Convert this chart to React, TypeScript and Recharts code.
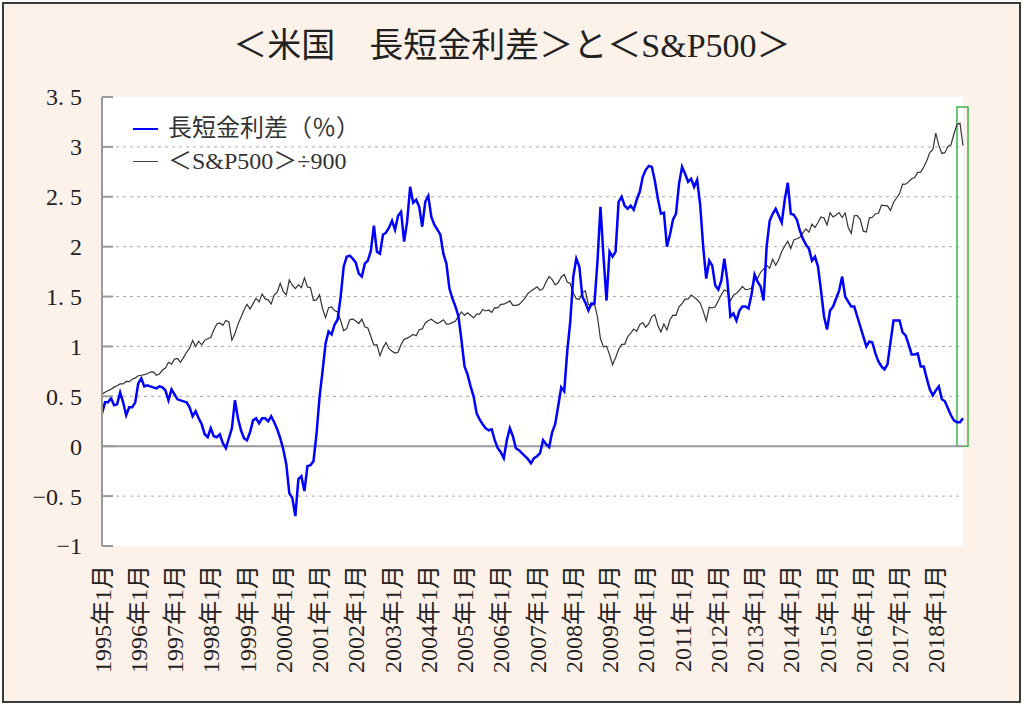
import React from "react";
import {
  LineChart,
  Line,
  XAxis,
  YAxis,
  CartesianGrid,
  ReferenceLine,
  ReferenceArea,
  Legend,
} from "recharts";

// monthly, 1995/01 .. 2018/10
const startYear = 1995;
const monthCount = 286;

// 長短金利差 (%), one row per year
const spread: number[] = [
  0.33, 0.44, 0.44, 0.48, 0.41, 0.42, 0.54, 0.44, 0.31, 0.39, 0.39, 0.44, // 1995
  0.63, 0.68, 0.6, 0.61, 0.6, 0.59, 0.58, 0.6, 0.59, 0.56, 0.46, 0.57, // 1996
  0.52, 0.47, 0.46, 0.45, 0.44, 0.39, 0.3, 0.35, 0.28, 0.22, 0.12, 0.09, // 1997
  0.18, 0.1, 0.09, 0.12, 0.03, -0.02, 0.08, 0.18, 0.46, 0.28, 0.16, 0.08, // 1998
  0.06, 0.14, 0.26, 0.28, 0.23, 0.28, 0.28, 0.25, 0.3, 0.24, 0.17, 0.08, // 1999
  -0.03, -0.18, -0.47, -0.52, -0.7, -0.33, -0.3, -0.45, -0.2, -0.19, -0.15, 0.12, // 2000
  0.49, 0.75, 1.03, 1.15, 1.12, 1.22, 1.27, 1.5, 1.8, 1.9, 1.91, 1.88, // 2001
  1.84, 1.73, 1.7, 1.83, 1.86, 1.96, 2.21, 1.95, 1.93, 2.12, 2.14, 2.19, // 2002
  2.26, 2.17, 2.31, 2.35, 2.05, 2.25, 2.6, 2.44, 2.47, 2.4, 2.2, 2.45, // 2003
  2.51, 2.3, 2.22, 2.17, 2.12, 1.93, 1.83, 1.58, 1.48, 1.4, 1.3, 1.06, // 2004
  0.8, 0.72, 0.6, 0.5, 0.33, 0.27, 0.22, 0.18, 0.16, 0.17, 0.06, -0.02, // 2005
  -0.06, -0.12, 0.06, 0.18, 0.1, -0.02, -0.04, -0.07, -0.1, -0.13, -0.17, -0.12, // 2006
  -0.1, -0.07, 0.06, 0.02, -0.01, 0.14, 0.22, 0.4, 0.59, 0.55, 0.95, 1.25, // 2007
  1.7, 1.88, 1.8, 1.5, 1.44, 1.36, 1.43, 1.43, 1.85, 2.4, 1.9, 1.46, // 2008
  1.95, 1.9, 1.95, 2.45, 2.5, 2.41, 2.38, 2.41, 2.37, 2.47, 2.55, 2.7, // 2009
  2.77, 2.81, 2.8, 2.66, 2.48, 2.33, 2.34, 2.0, 2.12, 2.27, 2.33, 2.63, // 2010
  2.8, 2.73, 2.65, 2.68, 2.6, 2.67, 2.42, 2.0, 1.68, 1.86, 1.81, 1.61, // 2011
  1.57, 1.66, 1.88, 1.66, 1.3, 1.33, 1.26, 1.36, 1.4, 1.4, 1.38, 1.52, // 2012
  1.72, 1.65, 1.6, 1.46, 2.0, 2.26, 2.33, 2.38, 2.31, 2.24, 2.47, 2.64, // 2013
  2.33, 2.32, 2.27, 2.16, 2.08, 2.02, 1.98, 1.86, 1.9, 1.8, 1.56, 1.3, // 2014
  1.17, 1.36, 1.4, 1.48, 1.56, 1.7, 1.5, 1.45, 1.4, 1.4, 1.3, 1.2, // 2015
  1.1, 1.0, 1.05, 1.04, 0.93, 0.85, 0.8, 0.77, 0.82, 1.04, 1.26, 1.26, // 2016
  1.26, 1.14, 1.11, 1.02, 0.92, 0.92, 0.93, 0.8, 0.8, 0.68, 0.57, 0.51, // 2017
  0.56, 0.6, 0.47, 0.45, 0.38, 0.31, 0.26, 0.24, 0.24, 0.28, // 2018
];

// S&P500 month-end level (plotted ÷900)
const sp500: number[] = [
  470, 487, 501, 515, 533, 545, 562, 562, 584, 582, 605, 616, // 1995
  636, 640, 646, 654, 669, 671, 640, 652, 687, 705, 757, 741, // 1996
  786, 791, 757, 801, 848, 885, 954, 900, 947, 915, 955, 970, // 1997
  980, 1049, 1102, 1112, 1091, 1134, 1121, 957, 1017, 1099, 1164, 1229, // 1998
  1280, 1238, 1286, 1335, 1302, 1373, 1329, 1320, 1283, 1363, 1389, 1469, // 1999
  1395, 1366, 1499, 1452, 1421, 1455, 1431, 1518, 1437, 1429, 1315, 1320, // 2000
  1366, 1240, 1160, 1250, 1256, 1224, 1211, 1134, 1041, 1060, 1140, 1148, // 2001
  1130, 1107, 1147, 1077, 1067, 990, 912, 916, 815, 886, 936, 880, // 2002
  856, 841, 848, 917, 964, 975, 990, 1008, 996, 1051, 1058, 1112, // 2003
  1131, 1145, 1126, 1107, 1121, 1141, 1102, 1104, 1115, 1130, 1174, 1212, // 2004
  1181, 1204, 1181, 1157, 1192, 1191, 1234, 1220, 1229, 1207, 1250, 1248, // 2005
  1280, 1281, 1295, 1311, 1270, 1270, 1277, 1304, 1336, 1378, 1401, 1418, // 2006
  1438, 1407, 1421, 1482, 1531, 1503, 1455, 1474, 1527, 1549, 1481, 1468, // 2007
  1379, 1331, 1323, 1386, 1400, 1280, 1267, 1283, 1166, 969, 896, 903, // 2008
  826, 735, 798, 873, 919, 919, 988, 1021, 1057, 1036, 1096, 1115, // 2009
  1074, 1105, 1169, 1187, 1089, 1031, 1102, 1049, 1141, 1183, 1181, 1258, // 2010
  1286, 1327, 1326, 1364, 1345, 1321, 1292, 1219, 1131, 1253, 1247, 1258, // 2011
  1312, 1366, 1409, 1398, 1310, 1362, 1379, 1407, 1441, 1412, 1416, 1426, // 2012
  1498, 1515, 1569, 1598, 1631, 1606, 1686, 1633, 1682, 1757, 1806, 1848, // 2013
  1783, 1860, 1872, 1884, 1924, 1960, 1931, 2003, 1972, 2018, 2068, 2059, // 2014
  1995, 2105, 2068, 2086, 2107, 2063, 2104, 1972, 1920, 2079, 2080, 2044, // 2015
  1940, 1932, 2060, 2065, 2097, 2099, 2174, 2171, 2168, 2126, 2199, 2239, // 2016
  2279, 2364, 2363, 2384, 2412, 2423, 2470, 2472, 2519, 2575, 2648, 2674, // 2017
  2824, 2714, 2641, 2648, 2705, 2718, 2816, 2902, 2914, 2712, // 2018
];

const yTicks = [-1, -0.5, 0, 0.5, 1, 1.5, 2, 2.5, 3, 3.5];
const gridValues = [-0.5, 0.5, 1, 1.5, 2, 2.5, 3];

const months: string[] = [];
for (let i = 0; i < monthCount; i++) {
  months.push(`${startYear + Math.floor(i / 12)}年${(i % 12) + 1}月`);
}

const rows = months.map((m, i) => ({
  month: m,
  spread: spread[i],
  sp: sp500[i] / 900,
}));

const serif = "'Liberation Serif', 'DejaVu Serif', 'Noto Sans CJK JP', serif";

const fmtY = (v: number) => (v < 0 ? "\u2212" + String(-v) : String(v)).replace(".", ". ");

const YTick = (props: any) => {
  const { x, y, payload } = props;
  return (
    <text x={x} y={y} dy="0.35em" textAnchor="end" fontSize={24} fill="#222" fontFamily={serif}>
      {fmtY(payload.value)}
    </text>
  );
};

const XTick = (props: any) => {
  const { x, y, payload } = props;
  return (
    <text
      x={0}
      y={0}
      transform={`translate(${x},${y}) rotate(-90)`}
      dy="0.36em"
      textAnchor="end"
      fontSize={24}
      fill="#222"
      fontFamily={serif}
    >
      {payload.value}
    </text>
  );
};

const LegendBox = () => (
  <div style={{ fontFamily: serif, fontSize: 24, color: "#333", lineHeight: "33px" }}>
    <div style={{ display: "flex", alignItems: "center" }}>
      <span style={{ display: "inline-block", width: 25, height: 2, background: "#0000ff", marginRight: 10 }} />
      長短金利差（％）
    </div>
    <div style={{ display: "flex", alignItems: "center" }}>
      <span style={{ display: "inline-block", width: 25, height: 1.5, background: "#444", marginRight: 10 }} />
      ＜S&amp;P500＞÷900
    </div>
  </div>
);

export default function App() {
  return (
    <div style={{ position: "absolute", left: 0, top: 0, width: 1024, height: 705, background: "#fff" }}>
      <div
        style={{
          position: "absolute",
          left: 2,
          top: 2,
          width: 1015,
          height: 697,
          border: "2px solid #3a3a3a",
          background: "#fdf2ea",
        }}
      />
      <div
        style={{
          position: "absolute",
          top: 29,
          left: 0,
          width: 1024,
          textAlign: "center",
          fontFamily: serif,
          fontSize: 34,
          lineHeight: "34px",
          color: "#222",
        }}
      >
        ＜米国　長短金利差＞と＜S&amp;P500＞
      </div>
      <div style={{ position: "absolute", left: 0, top: 0 }}>
        <LineChart width={1024} height={705} data={rows} margin={{ top: 97, right: 61, left: 0, bottom: 0 }}>
          <CartesianGrid
            fill="#ffffff"
            vertical={false}
            horizontalValues={gridValues}
            stroke="#a8a8a8"
            strokeDasharray="3 4"
          />
          <XAxis
            dataKey="month"
            interval={11}
            axisLine={false}
            tickLine={false}
            tickSize={0}
            tickMargin={19}
            height={159}
            tick={<XTick />}
          />
          <YAxis
            domain={[-1, 3.5]}
            ticks={yTicks}
            interval={0}
            width={102}
            axisLine={{ stroke: "#999", strokeWidth: 2 }}
            tickLine={{ stroke: "#999", strokeWidth: 2 }}
            tickSize={-11}
            tickMargin={31}
            tick={<YTick />}
          />
          <ReferenceLine y={0} stroke="#9a9a9a" strokeWidth={2} />
          <Legend
            verticalAlign="middle"
            layout="horizontal"
            content={<LegendBox />}
            wrapperStyle={{ position: "absolute", top: 112, left: 133, width: "auto" }}
          />
          <Line dataKey="sp" stroke="#333" strokeWidth={1.2} dot={false} isAnimationActive={false} />
          <Line dataKey="spread" stroke="#0000ff" strokeWidth={2.5} dot={false} isAnimationActive={false} />
          <ReferenceArea
            x1={months[283]}
            x2={months[285]}
            y1={0}
            y2={3.4}
            ifOverflow="visible"
            shape={(p: any) => (
              <rect x={p.x} y={p.y} width={p.width + 5} height={p.height} fill="none" stroke="#3cb44a" strokeWidth={1.5} />
            )}
          />
        </LineChart>
      </div>
    </div>
  );
}
